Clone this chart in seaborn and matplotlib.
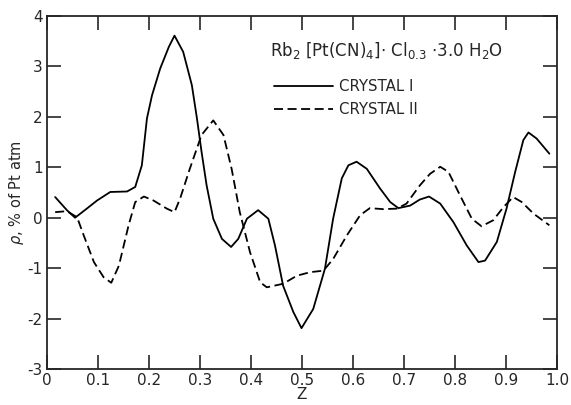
import pandas as pd
import matplotlib
matplotlib.use("Agg")
import matplotlib.pyplot as plt
import seaborn as sns

# Crystal I (solid line)
z_1 = [0.016, 0.039, 0.055, 0.078, 0.098, 0.124, 0.157, 0.173, 0.186, 0.196, 0.206,
       0.222, 0.239, 0.250, 0.267, 0.284, 0.294, 0.303, 0.313, 0.326, 0.343, 0.361,
       0.375, 0.392, 0.414, 0.434, 0.447, 0.463, 0.483, 0.499, 0.522, 0.545, 0.561,
       0.578, 0.591, 0.607, 0.627, 0.653, 0.673, 0.689, 0.712, 0.731, 0.749, 0.771,
       0.797, 0.823, 0.846, 0.859, 0.882, 0.901, 0.918, 0.934, 0.944, 0.960, 0.985]
rho_1 = [0.41, 0.15, 0.00, 0.18, 0.34, 0.51, 0.52, 0.61, 1.04, 1.97, 2.43,
         2.96, 3.39, 3.61, 3.29, 2.63, 1.97, 1.31, 0.64, -0.02, -0.42, -0.58,
         -0.42, -0.02, 0.15, -0.02, -0.55, -1.35, -1.87, -2.19, -1.81, -1.01, -0.02,
         0.78, 1.04, 1.11, 0.97, 0.58, 0.31, 0.19, 0.24, 0.36, 0.42, 0.28,
         -0.09, -0.55, -0.88, -0.85, -0.48, 0.18, 0.91, 1.54, 1.69, 1.57, 1.27]

# Crystal II (dashed line)
z_2 = [0.016, 0.039, 0.059, 0.072, 0.092, 0.111, 0.126, 0.141, 0.160, 0.173, 0.190,
       0.209, 0.235, 0.250, 0.261, 0.280, 0.303, 0.326, 0.346, 0.362, 0.378, 0.398,
       0.418, 0.431, 0.463, 0.490, 0.516, 0.542, 0.561, 0.588, 0.614, 0.633, 0.659,
       0.686, 0.705, 0.731, 0.751, 0.771, 0.787, 0.810, 0.833, 0.852, 0.875, 0.895,
       0.914, 0.931, 0.954, 0.985]
rho_2 = [0.11, 0.13, 0.01, -0.35, -0.88, -1.18, -1.29, -0.95, -0.15, 0.31, 0.42,
         0.34, 0.18, 0.11, 0.38, 0.97, 1.64, 1.93, 1.64, 0.97, 0.11, -0.68,
         -1.28, -1.38, -1.31, -1.15, -1.08, -1.05, -0.82, -0.35, 0.05, 0.19, 0.17,
         0.18, 0.28, 0.64, 0.87, 1.01, 0.91, 0.44, -0.02, -0.17, -0.05, 0.21,
         0.41, 0.31, 0.08, -0.15]

df = pd.concat([
    pd.DataFrame({"Z": z_1, "rho": rho_1, "crystal": "CRYSTAL I"}),
    pd.DataFrame({"Z": z_2, "rho": rho_2, "crystal": "CRYSTAL II"}),
])

sns.set_style("ticks")
plt.rcParams["font.family"] = ["DejaVu Sans"]
plt.rcParams["axes.unicode_minus"] = False

fig = plt.figure(figsize=(5.71, 4.05), dpi=100)
ax = fig.add_axes([0.0823, 0.0889, 0.8932, 0.8716])

sns.lineplot(data=df, x="Z", y="rho", hue="crystal", style="crystal",
             palette={"CRYSTAL I": "black", "CRYSTAL II": "black"},
             dashes={"CRYSTAL I": "", "CRYSTAL II": (5, 2.5)},
             linewidth=1.3, ax=ax)

ax.set_xlim(0, 1.0)
ax.set_ylim(-3, 4)
ax.set_xticks([0, 0.1, 0.2, 0.3, 0.4, 0.5, 0.6, 0.7, 0.8, 0.9, 1.0])
ax.set_xticklabels(["0", "0.1", "0.2", "0.3", "0.4", "0.5", "0.6", "0.7", "0.8", "0.9", "1.0"])
ax.set_yticks(range(-3, 5))
ax.tick_params(direction="in", top=True, right=True, length=10, width=1.2,
               labelsize=11, pad=3)
for s in ax.spines.values():
    s.set_linewidth(1.3)
    s.set_visible(True)

ax.set_xlabel("Z", fontsize=11, labelpad=-1)
ax.set_ylabel(r"$\rho$, % of Pt atm", fontsize=10.5, labelpad=1)

# legend with the compound name above it
handles, labels = ax.get_legend_handles_labels()
ax.legend(handles, labels, loc="upper left", bbox_to_anchor=(0.434, 0.838),
          frameon=False, fontsize=10.8, handlelength=3.9, handletextpad=0.4,
          labelspacing=0.55, borderaxespad=0)
ax.text(0.438, 0.902, r"Rb$_2$ [Pt(CN)$_4$]$\cdot$ Cl$_{0.3}$ $\cdot$3.0 H$_2$O",
        transform=ax.transAxes, fontsize=12, va="center", ha="left")

fig.savefig("out.png", dpi=100)
